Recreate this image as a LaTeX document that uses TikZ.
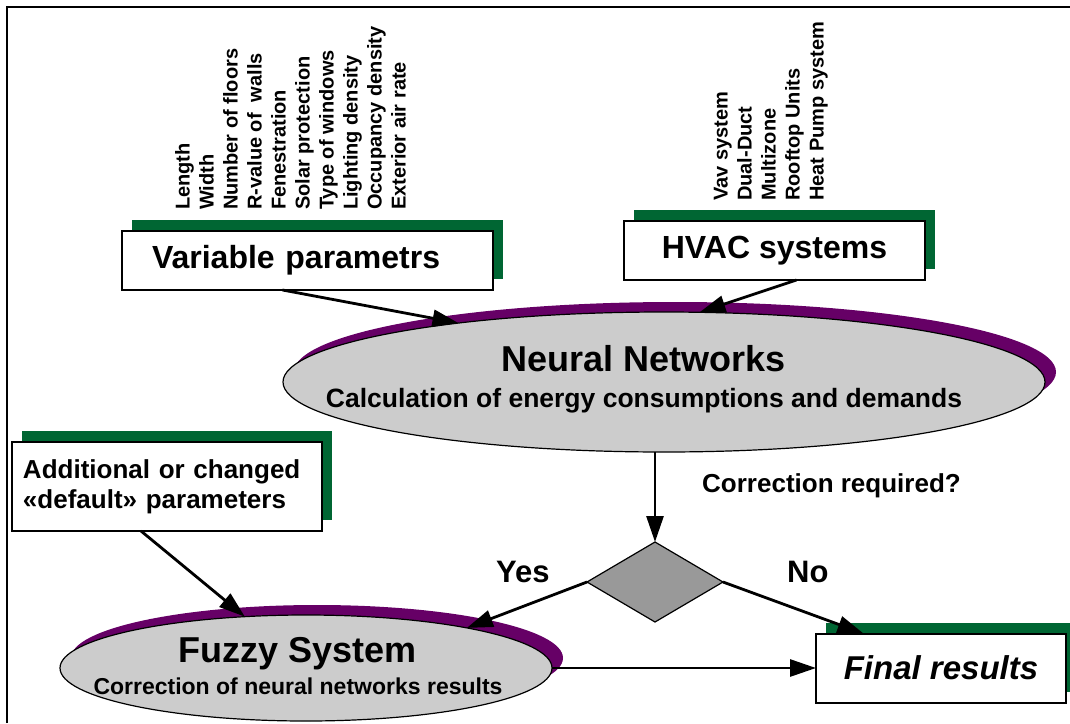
\documentclass[tikz,border=0pt]{standalone}
\usepackage{fontspec}
\setmainfont{Liberation Sans}
\usetikzlibrary{shapes,arrows.meta,positioning,calc,shadows}
\definecolor{shadegreen}{HTML}{006633}
\definecolor{shadepurple}{HTML}{660066}
\definecolor{ovalgray}{HTML}{CCCCCC}
\definecolor{choicegray}{HTML}{999999}

\begin{document}
\begin{tikzpicture}[x=1pt,y=-1pt,
    wbox/.style={draw=black, line width=2pt, fill=white, inner sep=0pt, outer sep=0pt,
        general shadow={fill=shadegreen, shadow xshift=10pt, shadow yshift=11pt}},
    oval/.style={ellipse, draw=black, line width=1.2pt, fill=ovalgray, inner sep=0pt, outer sep=0pt,
        general shadow={fill=shadepurple, shadow xshift=11pt, shadow yshift=10pt}},
    choice/.style={diamond, draw=black, line width=1.2pt, fill=choicegray, inner sep=0pt, outer sep=0pt},
    flow/.style={line width=2.8pt, -{Triangle[length=26pt,width=17pt]}},
    vtext/.style={rotate=90, anchor=mid west, inner sep=0pt, font=\fontsize{20}{24}\selectfont\bfseries},
    tag/.style={anchor=base west, inner sep=0pt, font=\fontsize{#1}{#1}\selectfont\bfseries},
  ]
    \useasboundingbox (0,0) rectangle (1070,723);

    % Frame
    \draw[line width=2.5pt] (7,723) -- (7,7) -- (1070,7);

    % Variable parameters
    \node[vtext] (len) at (187,210) {Length};
    \node[vtext] (wid) at (211,210) {Width};
    \node[vtext] (flo) at (235,210) {Number of floors};
    \node[vtext] (rvw) at (259,210) {R-value of~ walls};
    \node[vtext] (fen) at (283,210) {Fenestration};
    \node[vtext] (sol) at (307,210) {Solar protection};
    \node[vtext] (win) at (331,210) {Type of windows};
    \node[vtext] (lig) at (355,210) {Lighting density};
    \node[vtext] (occ) at (379,210) {Occupancy density};
    \node[vtext] (ext) at (403,210) {Exterior air rate};
    \node[wbox, minimum width=371pt, minimum height=59pt, inner xsep=30pt, text width=311pt,
        align=left, font=\fontsize{32}{36}\selectfont\bfseries] (vp) at (307.5,260.5) {Variable parametrs};

    % HVAC systems
    \node[vtext] (vav) at (725,201) {Vav system};
    \node[vtext] (dud) at (749,201) {Dual-Duct};
    \node[vtext] (mul) at (773,201) {Multizone};
    \node[vtext] (roo) at (797,201) {Rooftop Units};
    \node[vtext] (hea) at (821,201) {Heat Pump system};
    \node[wbox, minimum width=301pt, minimum height=59pt,
        font=\fontsize{32}{36}\selectfont\bfseries] (hv) at (774.5,250.5) {HVAC systems};

    % Neural networks
    \node[oval, minimum width=762pt, minimum height=140pt] (nn) at (664,382) {};
    \node[anchor=base, inner sep=0pt, font=\fontsize{36}{40}\selectfont\bfseries] (nntitle) at (644,371) {Neural Networks};
    \node[anchor=base, inner sep=0pt, font=\fontsize{26.5}{30}\selectfont\bfseries] (nnsub) at (644,407)
        {Calculation of energy consumptions and demands};

    % Additional parameters
    \node[wbox, minimum width=310pt, minimum height=89pt, inner xsep=11pt, text width=288pt,
        align=left, font=\fontsize{26}{30}\selectfont\bfseries] (ad) at (167,486.5)
        {Additional or changed\\«default» parameters};

    % Decision
    \node[tag=26] (cr) at (702,492) {Correction required?};
    \node[choice, minimum width=136pt, minimum height=80pt] (dm) at (655,582) {};
    \node[tag=31] (yes) at (496,582) {Yes};
    \node[tag=31] (no) at (787,582) {No};

    % Fuzzy system
    \node[oval, minimum width=492pt, minimum height=106pt] (fs) at (306,668) {};
    \node[anchor=base, inner sep=0pt, font=\fontsize{36}{40}\selectfont\bfseries] (fstitle) at (298,662) {Fuzzy System};
    \node[anchor=base, inner sep=0pt, font=\fontsize{23}{26}\selectfont\bfseries] (fssub) at (298,694)
        {Correction of neural networks results};

    % Final results
    \node[wbox, minimum width=250pt, minimum height=69pt,
        font=\fontsize{33}{36}\selectfont\bfseries\itshape] (fr) at (941,668) {Final results};

    % Arrows
    \draw[flow] ([xshift=-25pt]vp.south) -- (nn.164);
    \draw[flow] ([xshift=22pt]hv.south) -- (nn.63);
    \draw[flow] (nn.south -| dm.north) -- (dm.north);
    \draw[flow] (dm.west) -- (fs.14);
    \draw[flow] (dm.east) -- (fr.156);
    \draw[flow] ([xshift=-26pt]ad.south) -- (fs.140);
    \draw[flow] (fs.east) -- (fr.west);

\end{tikzpicture}
\end{document}
